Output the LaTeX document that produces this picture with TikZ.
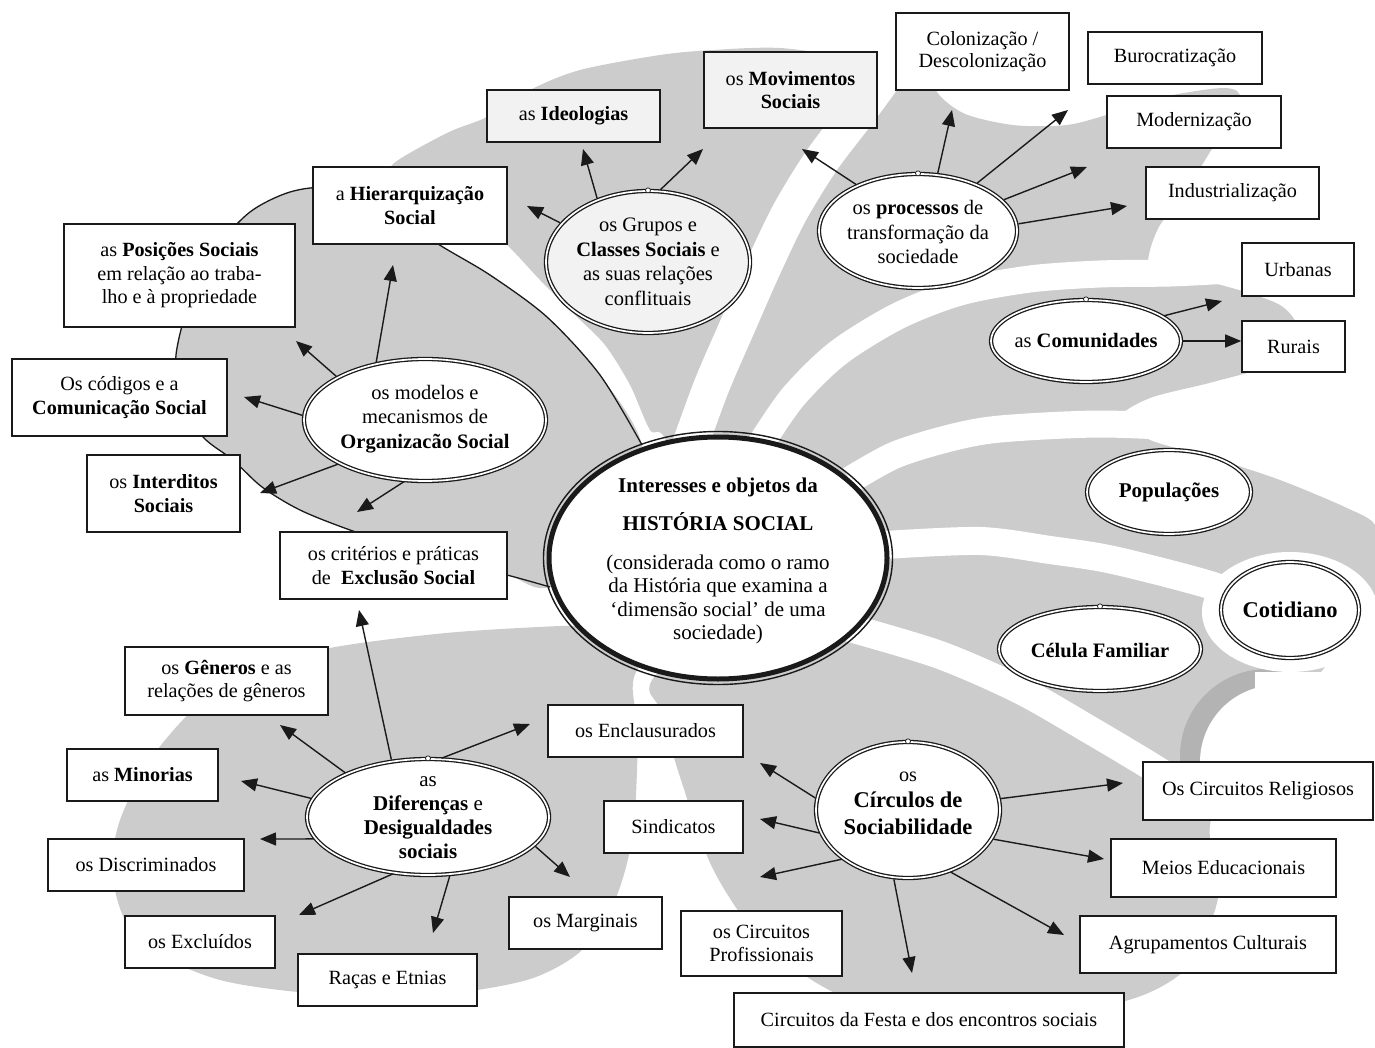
\documentclass[tikz,border=0pt]{standalone}
\usepackage{fontspec}
\setmainfont{Liberation Serif}
\usetikzlibrary{shapes.geometric,arrows.meta}
\definecolor{lg}{HTML}{CCCCCC}
\definecolor{dg}{HTML}{B3B3B3}
\definecolor{pale}{HTML}{F2F2F2}
\definecolor{ink}{HTML}{1A1A1A}
\newcommand\fs{\fontsize{20.2}{23.5}\selectfont}
\newcommand\fe{\fontsize{20.5}{24.5}\selectfont}
\newcommand\bx[7][]{\node[bx,#1,minimum width={(#5-#3)*1pt},minimum height={(#6-#4)*1pt}] (#2) at ({(#3+#5)/2},{(#4+#6)/2}) {#7};}
\begin{document}
\begin{tikzpicture}[x=1pt,y=-1pt,
 bx/.style={draw=ink, line width=1.6pt, fill=white, inner sep=1pt, align=center, font=\fs},
 dell/.style={ellipse, draw=ink, double=white, double distance=1.7pt, line width=1.3pt, fill=white, inner sep=0pt},
 txt/.style={align=center, font=\fe, inner sep=0pt},
 arr/.style={draw=ink, line width=1.4pt, shorten <=1.5pt, -{Triangle[length=16pt,width=13pt]}},
 band/.style={draw=white},
 knob/.style={circle, draw=ink, fill=white, line width=0.7pt, inner sep=0pt, minimum size=5pt}]
\useasboundingbox (0,0) rectangle (1375,1048);

% ---------- gray background shapes ----------
% left blob
\fill[lg] plot[smooth cycle, tension=0.5] coordinates {(642,445) (600,375) (547,317) (490,275) (438,244) (380,205) (330,188) (290,192) (250,212) (215,250) (190,300) (176,355) (180,400) (203,437) (233,460) (262,487) (300,510) (350,530) (420,553) (507,575) (550,587) (640,540)};
% main mass (upper, right, bottom right)
\fill[lg] plot[smooth cycle, tension=0.5] coordinates {(668,445) (650,430) (630,385) (605,345) (575,315) (540,280) (507,245) (460,205) (410,178) (392,165) (447,133) (487,117) (530,90) (580,70) (660,55) (713,50) (780,48) (860,58) (895,55) (930,45) (950,60) (935,88) (963,113) (1013,125) (1067,125) (1113,113) (1163,97) (1225,88) (1240,100) (1213,147) (1180,200) (1160,225) (1150,250) (1150,268) (1175,280) (1213,283) (1280,305) (1300,335) (1280,362) (1213,382) (1150,398) (1120,418) (1150,440) (1213,458) (1280,480) (1347,508) (1375,525) (1378,560) (1375,595) (1345,640) (1300,700) (1255,762) (1215,810) (1210,840) (1219,880) (1214,913) (1188,967) (1138,997) (1050,1015) (900,1015) (820,985) (757,935) (712,867) (681,780) (660,710) (652,680) (720,600)};
% bottom-left blob
\fill[lg] plot[smooth cycle, tension=0.5] coordinates {(700,605) (634,625) (560,626) (446,633) (330,648) (250,672) (195,708) (150,760) (120,820) (112,870) (125,920) (160,955) (220,980) (298,992) (400,997) (477,990) (536,977) (582,950) (615,900) (633,833) (638,733) (636,672)};
% white separating bands
\draw[band, line width=36pt] plot[smooth, tension=0.5] coordinates {(690,445) (712,385) (738,325) (763,268) (790,212) (822,160) (860,110) (900,55) (920,25)};
\draw[band, line width=27pt] plot[smooth, tension=0.5] coordinates {(760,445) (793,397) (838,353) (898,316) (960,292) (1030,279) (1100,274) (1170,273) (1230,270)};
\draw[band, line width=27pt] plot[smooth, tension=0.5] coordinates {(850,480) (895,455) (950,438) (1000,429) (1100,424) (1200,428)};
\draw[band, line width=28pt] plot[smooth, tension=0.5] coordinates {(885,545) (980,541) (1050,550) (1113,560) (1210,585) (1260,605)};
\draw[band, line width=28pt] plot[smooth, tension=0.5] coordinates {(850,628) (940,655) (1020,690) (1090,730) (1160,772) (1200,800)};
% dark crescent and white area at the right
\begin{scope}
\clip (1100,600) rectangle (1375,762);
\fill[dg] (1267,756) circle[radius=87pt];
\fill[white] (1277,762) circle[radius=77pt];
\fill[white] (1255,672) rectangle (1375,762);
\end{scope}
\fill[white] (1290,612) ellipse[x radius=88pt, y radius=60pt];
% outline of the left blob
\draw[ink, line width=1.3pt] plot[smooth, tension=0.5] coordinates {(642,445) (600,375) (547,317) (490,275) (438,244) (380,205) (330,188) (290,192) (250,212) (215,250) (190,300) (176,355) (180,400) (203,437) (233,460) (262,487) (300,510) (350,530) (420,553) (507,575) (550,587)};

% ---------- central ellipse ----------
\node[ellipse, draw=ink, line width=5pt, fill=white, inner sep=0pt, minimum width=338pt, minimum height=242pt] (hs) at (718,558) {};
\draw[ink, line width=1.4pt] (718,558) ellipse[x radius=174.5pt, y radius=126.5pt];
\node[txt, font=\fontsize{21}{23.5}\selectfont] (hsT) at (718,561) {\textbf{Interesses e objetos da}\\[14.5pt]\textbf{HISTÓRIA SOCIAL}\\[15pt](considerada como o ramo\\da História que examina a\\‘dimensão social’ de uma\\sociedade)};

% ---------- ellipses ----------
\node[dell, minimum width=242pt, minimum height=122pt] (org) at (425,420) {};
\node[txt] (orgT) at (425,419) {os modelos e\\mecanismos de\\\textbf{Organizacão Social}};
\node[dell, fill=pale, minimum width=204pt, minimum height=142pt] (grp) at (648,262) {};
\node[txt] (grpT) at (648,262) {os Grupos e\\\textbf{Classes Sociais} e\\as suas relações\\conflituais};
\node[dell, minimum width=198pt, minimum height=114pt] (proc) at (918,231) {};
\node[txt] (procT) at (918,232) {os \textbf{processos} de\\transformação da\\sociedade};
\node[dell, minimum width=190pt, minimum height=82pt] (com) at (1086,341) {};
\node[txt] (comT) at (1086,341) {as \textbf{Comunidades}};
\node[dell, minimum width=164pt, minimum height=84pt] (pop) at (1169,492) {};
\node[txt, font=\fontsize{21}{24}\selectfont] (popT) at (1169,492) {\textbf{Populações}};
\node[dell, minimum width=138pt, minimum height=96pt] (cot) at (1290,610) {};
\node[txt, font=\fontsize{22.5}{26}\selectfont] (cotT) at (1290,610) {\textbf{Cotidiano}};
\node[dell, minimum width=202pt, minimum height=84pt] (cel) at (1100,649) {};
\node[txt] (celT) at (1100,650) {\textbf{Célula Familiar}};
\node[dell, minimum width=184pt, minimum height=136pt] (circ) at (908,810) {};
\node[txt, font=\fontsize{22.5}{26.5}\selectfont] (circT) at (908,803) {{\fs os}\\\textbf{Círculos de}\\\textbf{Sociabilidade}};
\node[dell, minimum width=242pt, minimum height=116pt] (dif) at (428,817) {};
\node[txt, font=\fontsize{21}{24}\selectfont] (difT) at (428,818) {as\\\textbf{Diferenças} e\\\textbf{Desigualdades}\\\textbf{sociais}};
% small handles
\node[knob] (k1) at (grp.90) {};
\node[knob] (k2) at (proc.90) {};
\node[knob] (k3) at (com.90) {};
\node[knob] (k4) at (cel.90) {};
\node[knob] (k5) at (circ.90) {};
\node[knob] (k6) at (dif.90) {};

% ---------- boxes ----------
\bx{hier}{313}{167}{507}{244}{a \textbf{Hierarquização}\\\textbf{Social}}
\bx{pos}{64}{224}{295}{327}{as \textbf{Posições Sociais}\\em relação ao traba-\\lho e à propriedade}
\bx{cod}{12}{359}{227}{436}{Os códigos e a\\\textbf{Comunicação Social}}
\bx{intd}{87}{455}{240}{532}{os \textbf{Interditos}\\\textbf{Sociais}}
\bx{excl}{280}{532}{507}{599}{os critérios e práticas\\de\enspace\textbf{Exclusão Social}}
\bx[fill=pale]{ideo}{487}{90}{660}{142}{as \textbf{Ideologias}}
\bx[fill=pale]{mov}{704}{52}{877}{128}{os \textbf{Movimentos}\\\textbf{Sociais}}
\bx[font=\fontsize{20.2}{21.5}\selectfont]{colo}{896}{13}{1069}{90}{Colonização /\\Descolonização}
\bx{buro}{1088}{32}{1262}{84}{Burocratização}
\bx{mode}{1107}{96}{1281}{148}{Modernização}
\bx{indu}{1146}{167}{1319}{219}{Industrialização}
\bx{urb}{1242}{243}{1354}{296}{Urbanas}
\bx{rur}{1242}{321}{1345}{372}{Rurais}
\bx{gen}{125}{647}{328}{715}{os \textbf{Gêneros} e as\\relações de gêneros}
\bx{mino}{67}{749}{218}{801}{as \textbf{Minorias}}
\bx{disc}{48}{839}{244}{891}{os Discriminados}
\bx{exc}{125}{916}{275}{968}{os Excluídos}
\bx{raca}{298}{954}{477}{1006}{Raças e Etnias}
\bx{marg}{509}{897}{662}{949}{os Marginais}
\bx{encl}{548}{705}{743}{757}{os Enclausurados}
\bx{sind}{604}{801}{743}{853}{Sindicatos}
\bx{prof}{681}{911}{842}{976}{os Circuitos\\Profissionais}
\bx{fest}{734}{993}{1124}{1047}{Circuitos da Festa e dos encontros sociais}
\bx{reli}{1143}{762}{1373}{820}{Os Circuitos Religiosos}
\bx{meio}{1111}{839}{1336}{897}{Meios Educacionais}
\bx{agru}{1080}{916}{1336}{973}{Agrupamentos Culturais}

% ---------- arrow end points ----------
\coordinate (a1) at (393,265);
\coordinate (a2) at (296,341);
\coordinate (a3) at (244,397);
\coordinate (a4) at (260,493);
\coordinate (a5) at (357,512);
\coordinate (b1) at (527,206);
\coordinate (b2) at (583,149);
\coordinate (b3) at (703,149);
\coordinate (c1) at (802,149);
\coordinate (c2) at (952,110);
\coordinate (c3) at (1068,110);
\coordinate (c4) at (1087,167);
\coordinate (c5) at (1127,206);
\coordinate (d1) at (1222,301);
\coordinate (e1) at (359,610);
\coordinate (e2) at (280,725);
\coordinate (e3) at (241,781);
\coordinate (e4) at (260,839);
\coordinate (e5) at (299,915);
\coordinate (e6) at (433,933);
\coordinate (e7) at (570,877);
\coordinate (e8) at (530,724);
\coordinate (f1) at (760,763);
\coordinate (f2) at (760,819);
\coordinate (f3) at (760,877);
\coordinate (f4) at (912,973);
\coordinate (f5) at (1064,935);
\coordinate (f6) at (1104,859);
\coordinate (f7) at (1123,783);

% ---------- arrows ----------
\draw[arr] (org.131) -- (a1);
\draw[arr] (org.154) -- (a2);
\draw[arr] (org.178) -- (a3);
\draw[arr] (org.207) -- (a4);
\draw[arr] (org.252) -- (a5);
\draw[arr] (grp.156) -- (b1);
\draw[arr] (grp.129) -- (b2);
\draw[arr] (grp.81) -- (b3);
\draw[arr] (proc.143) -- (c1);
\draw[arr] (proc.71) -- (c2);
\draw[arr] (proc.39) -- (c3);
\draw[arr] (proc.20) -- (c4);
\draw[arr] (proc.4) -- (c5);
\draw[arr] (com.18) -- (d1);
\draw[arr] (com.0) -- (com.0 -| rur.west);
\draw[arr] (dif.123) -- (e1);
\draw[arr] (dif.152) -- (e2);
\draw[arr] (dif.171) -- (e3);
\draw[arr] (dif.191) -- (e4);
\draw[arr] (dif.239) -- (e5);
\draw[arr] (dif.291) -- (e6);
\draw[arr] (dif.345) -- (e7);
\draw[arr] (dif.78) -- (e8);
\draw[arr] (circ.173) -- (f1);
\draw[arr] (circ.195) -- (f2);
\draw[arr] (circ.217) -- (f3);
\draw[arr] (circ.258) -- (f4);
\draw[arr] (circ.304) -- (f5);
\draw[arr] (circ.341) -- (f6);
\draw[arr] (circ.7) -- (f7);
\end{tikzpicture}
\end{document}
